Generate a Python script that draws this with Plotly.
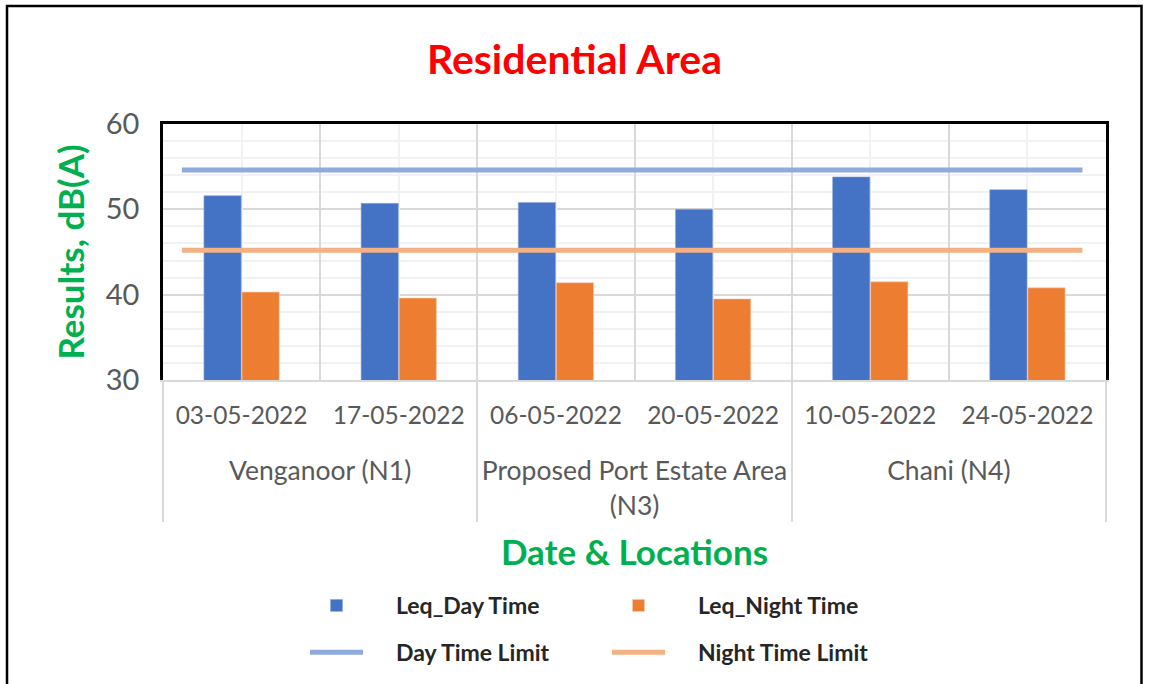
import plotly.graph_objects as go

date_names = ["03-05-2022", "17-05-2022", "06-05-2022", "20-05-2022", "10-05-2022", "24-05-2022"]
location_names = ["Venganoor (N1)", "Venganoor (N1)",
                  "Proposed Port Estate Area<br>(N3)", "Proposed Port Estate Area<br>(N3)",
                  "Chani (N4)", "Chani (N4)"]
leq_day = [51.6, 50.7, 50.8, 50.0, 53.8, 52.3]
leq_night = [40.3, 39.6, 41.4, 39.5, 41.5, 40.8]
day_limit = [54.6, 54.6]
night_limit = [45.2, 45.2]
limit_span = [-0.38, 5.35]

FONT = "Lato"
BLUE = "#4472C4"
ORANGE = "#ED7D31"

def sized(text, size):
    return "<br>".join('<span style="font-size:%spx">%s</span>' % (size, part)
                       for part in text.split("<br>"))

# first level: dates; second level: locations (with a blank first line for spacing)
dates = [sized(d, 24.5) for d in date_names]
locations = ["<br>" + sized(n, 26.5) for n in location_names]

PAD = "\u00a0" * 5

fig = go.Figure()
fig.add_trace(go.Bar(x=[locations, dates], y=leq_day, name=PAD + "Leq_Day Time",
                     marker=dict(color=BLUE, line=dict(color="#8FAADC", width=0.6)),
                     legend="legend", legendgroup="a"))
fig.add_trace(go.Bar(x=[locations, dates], y=leq_night, name=PAD + "Leq_Night Time",
                     marker=dict(color=ORANGE, line=dict(color="#F8CBAD", width=0.6)),
                     legend="legend2", legendgroup="b"))
fig.add_trace(go.Scatter(x=limit_span, y=day_limit, name=PAD + "Day Time Limit", mode="lines",
                         line=dict(color="#8FAADC", width=5), xaxis="x2",
                         legend="legend", legendgroup="c"))
fig.add_trace(go.Scatter(x=limit_span, y=night_limit, name=PAD + "Night Time Limit", mode="lines",
                         line=dict(color="#F4B183", width=5), xaxis="x2",
                         legend="legend2", legendgroup="d"))

L, R, T, B = 163, 43, 124, 304
W, H = 1149, 684
pw, ph = W - L - R, H - T - B

def px(x):
    return (x - L) / pw

def py(y):
    return (H - B - y) / ph

legend_common = dict(font=dict(family=FONT, size=23, color="#262626", weight="bold"),
                     bgcolor="rgba(0,0,0,0)", xanchor="left", yanchor="top",
                     tracegroupgap=14, itemwidth=53, traceorder="grouped")

fig.update_layout(
    width=W, height=H,
    margin=dict(l=L, r=R, t=T, b=B, autoexpand=False),
    paper_bgcolor="white", plot_bgcolor="white",
    barmode="group", bargap=0.516, bargroupgap=0.02,
    title=dict(text="Residential Area", x=0.5, xref="container", xanchor="center",
               y=1 - 60 / H, yanchor="middle",
               font=dict(family=FONT, size=41, color="#FF0000", weight="bold")),
    xaxis=dict(type="multicategory", tickson="boundaries", showgrid=True,
               gridcolor="#D9D9D9", gridwidth=1.5,
               showline=True, linecolor="#D9D9D9", linewidth=1.5,
               ticks="", ticklabelstandoff=10,
               showdividers=True, dividercolor="#D9D9D9", dividerwidth=1.5,
               tickfont=dict(family=FONT, size=27, color="#595959"),
               title=dict(text="Date & Locations", standoff=20,
                          font=dict(family=FONT, size=35, color="#00B050", weight="bold")),
               automargin=False),
    xaxis2=dict(overlaying="x", side="top", range=[-0.5, 5.5], tick0=0, dtick=1,
                showgrid=True, gridcolor="#F2F2F2", gridwidth=1.5,
                showticklabels=False, ticks="", showline=True, linecolor="black",
                linewidth=2.5, zeroline=False, automargin=False),
    yaxis=dict(range=[30, 60], tick0=30, dtick=10, showgrid=True,
               gridcolor="#D9D9D9", gridwidth=1.5,
               minor=dict(dtick=2, showgrid=True, gridcolor="#F2F2F2", gridwidth=1.5),
               showline=True, linecolor="black", linewidth=2.5, mirror=True,
               zeroline=False, ticklabelstandoff=15,
               tickfont=dict(family=FONT, size=29, color="#595959"),
               title=dict(text="Results, dB(A)", standoff=11,
                          font=dict(family=FONT, size=35, color="#00B050", weight="bold")),
               automargin=False),
    legend=dict(x=px(305), y=py(584), **legend_common),
    legend2=dict(x=px(607), y=py(584), **legend_common),
    shapes=[dict(type="rect", xref="paper", yref="paper",
                 x0=px(7), x1=px(1141.5), y0=py(720), y1=py(6),
                 line=dict(color="black", width=2.5), fillcolor="rgba(0,0,0,0)",
                 layer="below")],
)

fig.write_html("out.html", config={"displayModeBar": False},
               post_script="document.body.style.margin='0px';")
